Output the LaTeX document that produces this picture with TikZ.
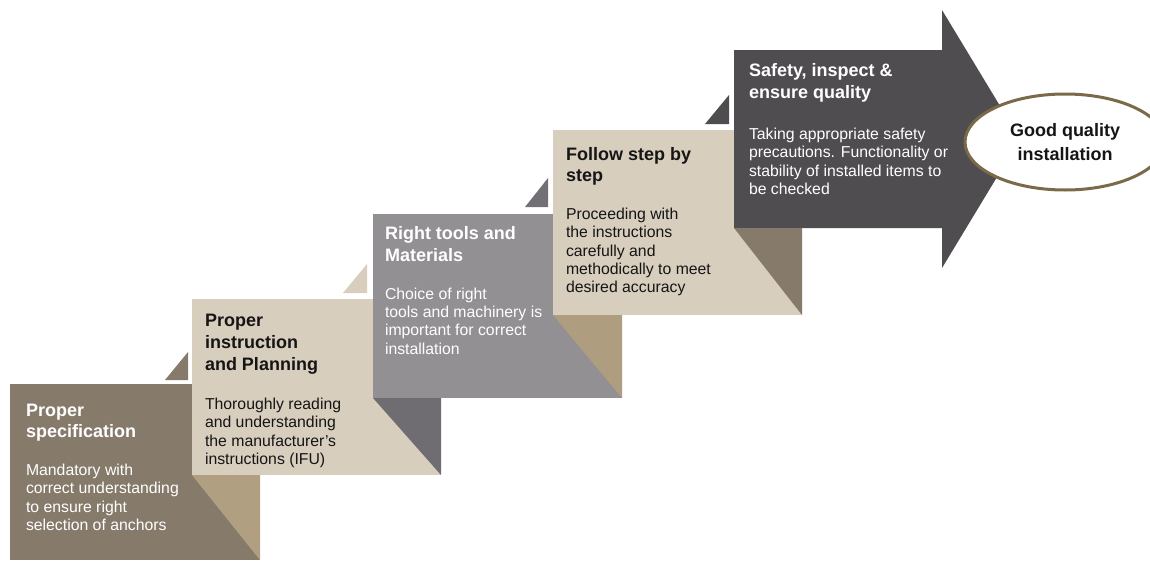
\documentclass[tikz,border=0pt]{standalone}
\usepackage{fontspec}
\setmainfont{Liberation Sans}
\usetikzlibrary{shapes.geometric}
\definecolor{cA}{HTML}{867B6B}
\definecolor{cB}{HTML}{D7CEBE}
\definecolor{cBf}{HTML}{B09F80}
\definecolor{cC}{HTML}{929093}
\definecolor{cCf}{HTML}{6F6D71}
\definecolor{cDf}{HTML}{AE9D7F}
\definecolor{cE}{HTML}{4F4D50}
\definecolor{cTfour}{HTML}{727074}
\definecolor{cEll}{HTML}{7A6A4A}
\definecolor{ink}{HTML}{151515}
\newcommand\mytitle[1]{\parbox[t]{240pt}{\raggedright\fontsize{18}{21.8}\selectfont\bfseries #1}}
\newcommand\mybody[1]{\parbox[t]{240pt}{\raggedright\fontsize{15.8}{18.4}\selectfont #1}}
\begin{document}
\begin{tikzpicture}[x=1pt,y=-1pt,
  txt/.style={anchor=base west, inner sep=0pt, outer sep=0pt},
  light/.style={txt, text=white},
  darktxt/.style={txt, text=ink}]
\clip (0,0) rectangle (1150,562);
\useasboundingbox (0,0) rectangle (1150,562);
\fill[white] (0,0) rectangle (1150,562);
% box 1
\fill[cA] (10,384) rectangle (260,560);
% step 2
\fill[cA] (165,380) -- (188,380) -- (188,352) -- cycle;
\fill[cB] (192,299) rectangle (441,475);
\fill[cBf] (192,475) -- (260,475) -- (260,560) -- cycle;
% step 3
\fill[cB] (343,293) -- (367,293) -- (367,264) -- cycle;
\fill[cC] (373,214) rectangle (622,398);
\fill[cCf] (373,398) -- (441,398) -- (441,475) -- cycle;
% step 4
\fill[cTfour] (525,207) -- (548,207) -- (548,178) -- cycle;
\fill[cB] (553,130) rectangle (802,315);
\fill[cDf] (553,315) -- (622,315) -- (622,398) -- cycle;
% step 5
\fill[cE] (705,124) -- (729,124) -- (729,95) -- cycle;
\fill[cE] (734,50) -- (942,50) -- (942,10) -- (1020,139) -- (942,268) -- (942,228) -- (734,228) -- cycle;
\fill[cA] (734,228) -- (802,228) -- (802,315) -- cycle;
% goal
\node[ellipse, draw=cEll, line width=3pt, fill=white, minimum width=200pt, minimum height=96pt, inner sep=0pt,
      align=center, text=ink, font=\fontsize{18}{24}\selectfont\bfseries] (goal) at (1065,142) {Good quality\\installation};
% texts
\node[light] (t1) at (26,416) {\mytitle{Proper\\specification}};
\node[light] (d1) at (26,475.5) {\mybody{Mandatory with\\correct understanding\\to ensure right\\selection of anchors}};
\node[darktxt] (t2) at (205,326.6) {\mytitle{Proper\\instruction\\and Planning}};
\node[darktxt] (d2) at (205,409.3) {\mybody{Thoroughly reading\\and understanding\\the manufacturer’s\\instructions (IFU)}};
\node[light] (t3) at (385,239.3) {\mytitle{Right tools and\\Materials}};
\node[light] (d3) at (385,299) {\mybody{Choice of right\\tools and machinery is\\important for correct\\installation}};
\node[darktxt] (t4) at (566,160) {\mytitle{Follow step by\\step}};
\node[darktxt] (d4) at (566,219.3) {\mybody{Proceeding with\\the instructions\\carefully and\\methodically to meet\\desired accuracy}};
\node[light] (t5) at (749,76.7) {\mytitle{Safety, inspect \&\\ensure quality}};
\node[light] (d5) at (749,139.3) {\mybody{Taking appropriate safety\\precautions. Functionality or\\stability of installed items to\\be checked}};
\end{tikzpicture}
\end{document}
